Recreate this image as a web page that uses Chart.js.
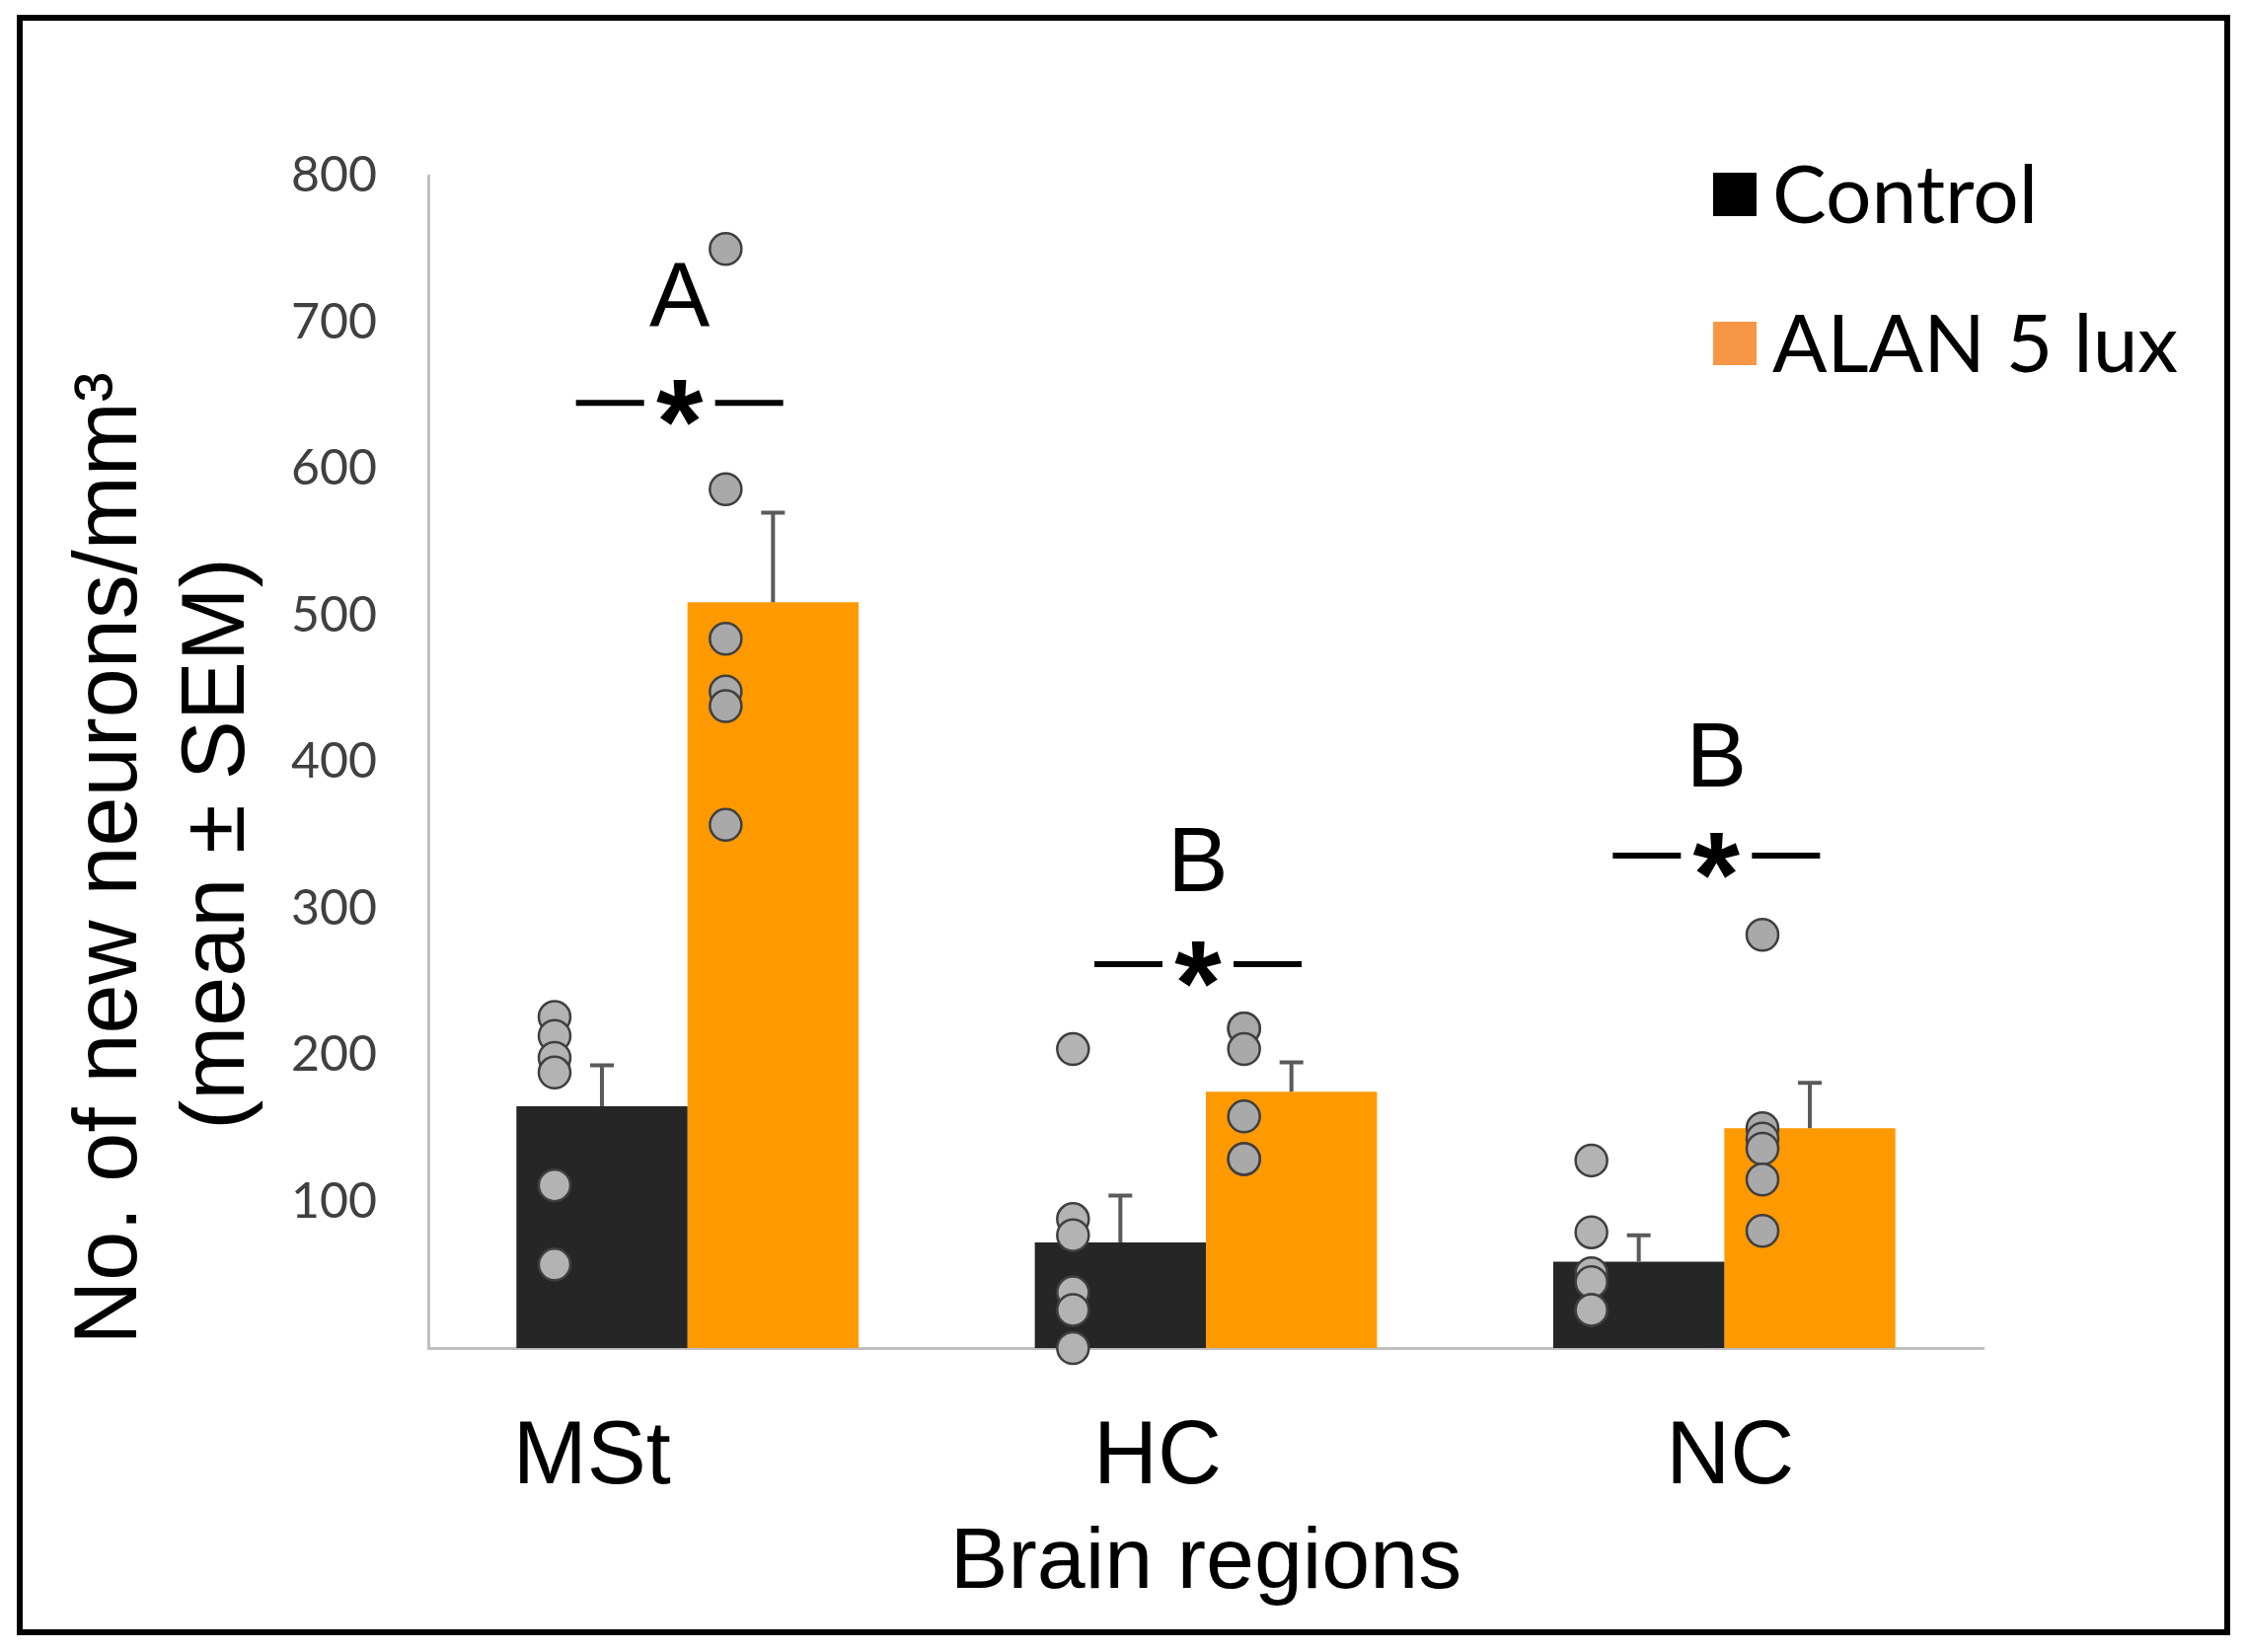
<!DOCTYPE html>
<html>
<head>
<meta charset="utf-8">
<script src="https://cdn.jsdelivr.net/npm/chart.js@4.4.1/dist/chart.umd.min.js"></script>
<style>
  html, body { margin: 0; padding: 0; background: #fff; }
  canvas { display: block; }
</style>
</head>
<body>
<canvas id="neuronChart" width="2276" height="1674"></canvas>
<script>
// data
const categories = ['MSt', 'HC', 'NC'];
const seriesNames = ['Control', 'ALAN 5 lux'];
const controlMeans = [165, 72, 59];
const alanMeans = [509, 175, 150];
const controlSem = [28, 32, 18];
const alanSem = [61, 20, 31];
const controlPoints = [
	[226, 213, 198, 188, 111, 57],
	[204, 88, 77, 38, 26, 0],
	[128, 79, 51, 45, 26, 26]
];
const alanPoints = [
	[750, 586, 484, 448, 438, 357],
	[218, 218, 204, 158, 129, 129],
	[282, 150, 143, 136, 115, 80]
];
const groupLetters = ['A', 'B', 'B'];
const yMin = 0;
const yMax = 800;
const yStep = 100;

// placement of the annotations (axis units / pixels)
const letterLevels = [714, 329, 400];
const starLevels = [645, 262, 336];
const labelShift = [-97, -49, 6];
const dotOffset = -48;

const barColors = ['#262626', '#ff9900'];
const legendColors = ['#000000', '#f79646'];
const dotFills = ['#b3b3b3', '#a9a9a9'];

const figureExtras = {
	id: 'figureExtras',
	beforeDraw (chart) {
		const ctx = chart.ctx;
		ctx.save();
		ctx.fillStyle = '#ffffff';
		ctx.fillRect(0, 0, chart.width, chart.height);
		ctx.restore();
	},
	afterDatasetsDraw (chart) {
		const ctx = chart.ctx;
		const y = chart.scales.y;
		const sems = [controlSem, alanSem];
		const means = [controlMeans, alanMeans];
		const points = [controlPoints, alanPoints];
		ctx.save();

		// individual animals, left of each bar's centre
		for (let d = 0; d < 2; d++) {
			chart.getDatasetMeta(d).data.forEach((bar, i) => {
				points[d][i].forEach(v => {
					ctx.beginPath();
					ctx.arc(bar.x + dotOffset, y.getPixelForValue(v), 16, 0, Math.PI * 2);
					ctx.fillStyle = dotFills[d];
					ctx.fill();
					ctx.lineWidth = 2.5;
					ctx.strokeStyle = '#3f3f3f';
					ctx.stroke();
				});
			});
		}

		// SEM error bars
		ctx.strokeStyle = '#5a5a5a';
		ctx.lineWidth = 4;
		for (let d = 0; d < 2; d++) {
			chart.getDatasetMeta(d).data.forEach((bar, i) => {
				const top = y.getPixelForValue(means[d][i] + sems[d][i]);
				ctx.beginPath();
				ctx.moveTo(bar.x, bar.y);
				ctx.lineTo(bar.x, top);
				ctx.moveTo(bar.x - 12, top);
				ctx.lineTo(bar.x + 12, top);
				ctx.stroke();
			});
		}
		ctx.restore();
	},
	afterDraw (chart) {
		const ctx = chart.ctx;
		const x = chart.scales.x;
		const y = chart.scales.y;
		ctx.save();

		// outer frame
		ctx.strokeStyle = '#000';
		ctx.lineWidth = 6;
		ctx.strokeRect(20, 18, 2237, 1636);

		// y axis title, two lines
		ctx.fillStyle = '#000';
		ctx.textAlign = 'center';
		ctx.textBaseline = 'middle';
		ctx.font = '90px "Liberation Sans", Arial, sans-serif';
		[['No. of new neurons/mm\u00B3', 113, 870], ['(mean \u00B1 SEM)', 222, 855]].forEach(([txt, tx, ty]) => {
			ctx.save();
			ctx.translate(tx, ty);
			ctx.rotate(-Math.PI / 2);
			ctx.fillText(txt, 0, 0);
			ctx.restore();
		});

		// category labels
		ctx.textBaseline = 'alphabetic';
		ctx.font = '90px "Liberation Sans", Arial, sans-serif';
		categories.forEach((c, i) => {
			ctx.fillText(c, x.getPixelForValue(i) + labelShift[i], 1503);
		});

		// group letters and significance marks
		categories.forEach((c, i) => {
			const cx = x.getPixelForValue(i) - 8;
			ctx.textBaseline = 'middle';
			ctx.font = '92px "Liberation Sans", Arial, sans-serif';
			ctx.fillText(groupLetters[i], cx, y.getPixelForValue(letterLevels[i]));

			const sy = y.getPixelForValue(starLevels[i]);
			ctx.lineWidth = 6;
			ctx.strokeStyle = '#000';
			ctx.beginPath();
			ctx.moveTo(cx - 105, sy);
			ctx.lineTo(cx - 36, sy);
			ctx.moveTo(cx + 36, sy);
			ctx.lineTo(cx + 105, sy);
			ctx.stroke();

			ctx.font = 'bold 122px "Liberation Sans", Arial, sans-serif';
			ctx.textBaseline = 'alphabetic';
			const m = ctx.measureText('*');
			ctx.fillText('*', cx, sy + (m.actualBoundingBoxAscent - m.actualBoundingBoxDescent) / 2);
		});

		// legend
		ctx.textAlign = 'left';
		ctx.textBaseline = 'alphabetic';
		ctx.font = '82px Lato, "Open Sans", sans-serif';
		const legendRows = [197, 348];
		seriesNames.forEach((name, i) => {
			const cy = legendRows[i];
			ctx.fillStyle = legendColors[i];
			ctx.fillRect(1736, cy - 22, 44, 44);
			ctx.fillStyle = '#000';
			ctx.fillText(name, 1796, cy + 29);
		});

		ctx.restore();
	}
};

const ctx = document.getElementById('neuronChart').getContext('2d');

const chart = new Chart(ctx, {
	type: 'bar',
	data: {
		labels: categories,
		datasets: [
			{
				label: seriesNames[0],
				data: controlMeans,
				backgroundColor: barColors[0],
				categoryPercentage: 0.66,
				barPercentage: 1.0
			},
			{
				label: seriesNames[1],
				data: alanMeans,
				backgroundColor: barColors[1],
				categoryPercentage: 0.66,
				barPercentage: 1.0
			}
		]
	},
	options: {
		responsive: false,
		animation: false,
		devicePixelRatio: 1,
		layout: {
			padding: { top: 178, right: 266, left: 0, bottom: 0 }
		},
		plugins: {
			legend: { display: false },
			tooltip: { enabled: false }
		},
		scales: {
			x: {
				type: 'category',
				offset: true,
				grid: { display: false, drawTicks: false },
				border: { color: '#bfbfbf', width: 3 },
				ticks: { display: false },
				title: {
					display: true,
					text: 'Brain regions',
					color: '#000',
					font: { family: '"Liberation Sans", Arial, sans-serif', size: 88 },
					padding: { top: 0, bottom: 36 }
				},
				afterFit (scale) { scale.height = 308; }
			},
			y: {
				min: yMin,
				max: yMax,
				grid: { display: false, drawTicks: false },
				border: { color: '#bfbfbf', width: 3 },
				ticks: {
					stepSize: yStep,
					padding: 52,
					color: '#404040',
					font: { family: 'Lato, "Open Sans", sans-serif', size: 50 },
					callback: v => (v === 0 ? '' : v)
				},
				afterFit (scale) { scale.width = 434; }
			}
		}
	},
	plugins: [figureExtras]
});
</script>
</body>
</html>
